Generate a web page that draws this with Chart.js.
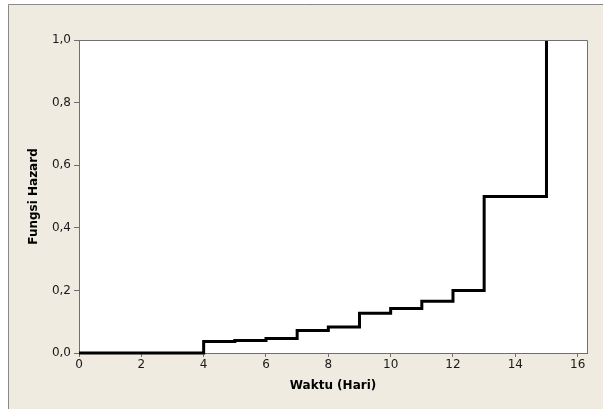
<!DOCTYPE html>
<html>
<head>
<meta charset="utf-8">
<script src="https://cdn.jsdelivr.net/npm/chart.js@4/dist/chart.umd.min.js"></script>
<style>
html,body{margin:0;padding:0;background:#ffffff;}
#wrap{width:603px;height:409px;position:relative;}
</style>
</head>
<body>
<div id="wrap"><canvas id="c" width="603" height="409"></canvas></div>
<script>
// Step points of the hazard function (time, hazard)
const waktu  = [0, 4, 5, 6, 7, 8, 9, 10, 11, 12, 13, 15];
const hazard = [0, 0.037, 0.040, 0.046, 0.072, 0.083, 0.127, 0.142, 0.165, 0.200, 0.500, 1.000];
const xTickValues = [0, 2, 4, 6, 8, 10, 12, 14, 16];
const xTickLabels = ['0', '2', '4', '6', '8', '10', '12', '14', '16'];
const yTickValues = [0, 0.2, 0.4, 0.6, 0.8, 1.0];
const yTickLabels = ['0,0', '0,2', '0,4', '0,6', '0,8', '1,0'];
const xTitle = 'Waktu (Hari)';
const yTitle = 'Fungsi Hazard';

const points = waktu.map((x, i) => ({x: x, y: hazard[i]}));

const framePlugin = {
  id: 'frame',
  beforeDraw(chart) {
    const ctx = chart.ctx;
    const a = chart.chartArea;
    ctx.save();
    ctx.fillStyle = '#ffffff';
    ctx.fillRect(0, 0, chart.width, chart.height);
    ctx.fillStyle = '#EFEBE1';
    ctx.fillRect(8.5, 4.5, chart.width, chart.height);
    ctx.strokeStyle = '#8a8a8a';
    ctx.lineWidth = 1;
    ctx.beginPath();
    ctx.moveTo(8.5, chart.height);
    ctx.lineTo(8.5, 4.5);
    ctx.lineTo(chart.width, 4.5);
    ctx.stroke();
    ctx.fillStyle = '#ffffff';
    ctx.fillRect(a.left, a.top, a.right - a.left, a.bottom - a.top);
    ctx.restore();
  },
  afterDatasetsDraw(chart) {
    const ctx = chart.ctx;
    const a = chart.chartArea;
    ctx.save();
    ctx.strokeStyle = '#6f6f6f';
    ctx.lineWidth = 1;
    ctx.beginPath();
    ctx.moveTo(a.left, a.top + 0.5);
    ctx.lineTo(a.right + 0.5, a.top + 0.5);
    ctx.lineTo(a.right + 0.5, a.bottom);
    ctx.stroke();
    ctx.restore();
  }
};

new Chart(document.getElementById('c'), {
  type: 'line',
  data: {
    datasets: [{
      data: points,
      stepped: 'before',
      borderColor: '#000000',
      borderWidth: 3,
      pointRadius: 0,
      fill: false,
      clip: false,
      borderJoinStyle: 'miter',
      borderCapStyle: 'butt'
    }]
  },
  options: {
    responsive: false,
    animation: false,
    devicePixelRatio: 1,
    layout: {padding: {left: 0, top: 40, right: 16, bottom: 0}},
    plugins: {legend: {display: false}, tooltip: {enabled: false}},
    scales: {
      x: {
        type: 'linear',
        min: 0,
        max: 16.3,
        afterFit(s) { s.height = 56; },
        afterBuildTicks(s) { s.ticks = xTickValues.map(v => ({value: v})); },
        grid: {display: true, drawOnChartArea: false, drawTicks: true, tickLength: 4, color: '#6f6f6f'},
        border: {display: true, color: '#6f6f6f', width: 1},
        ticks: {
          padding: 1,
          color: '#1a1a1a',
          font: {family: 'DejaVu Sans', size: 12},
          maxRotation: 0,
          callback(v) { const i = xTickValues.indexOf(v); return i >= 0 ? xTickLabels[i] : ''; }
        },
        title: {
          display: true, text: xTitle, color: '#000000',
          font: {family: 'DejaVu Sans', size: 12, weight: 'bold'},
          padding: {top: 0, bottom: 16}
        }
      },
      y: {
        type: 'linear',
        min: 0,
        max: 1.0,
        afterFit(s) { s.width = 79; },
        afterBuildTicks(s) { s.ticks = yTickValues.map(v => ({value: v})); },
        grid: {display: true, drawOnChartArea: false, drawTicks: true, tickLength: 5, color: '#6f6f6f'},
        border: {display: true, color: '#6f6f6f', width: 1},
        ticks: {
          padding: 3,
          color: '#1a1a1a',
          font: {family: 'DejaVu Sans', size: 12},
          callback(v) { const i = yTickValues.findIndex(t => Math.abs(t - v) < 1e-9); return i >= 0 ? yTickLabels[i] : ''; }
        },
        title: {
          display: true, text: yTitle, color: '#000000',
          font: {family: 'DejaVu Sans', size: 12, weight: 'bold'},
          padding: {top: 27, bottom: 0}
        }
      }
    }
  },
  plugins: [framePlugin]
});
</script>
</body>
</html>
